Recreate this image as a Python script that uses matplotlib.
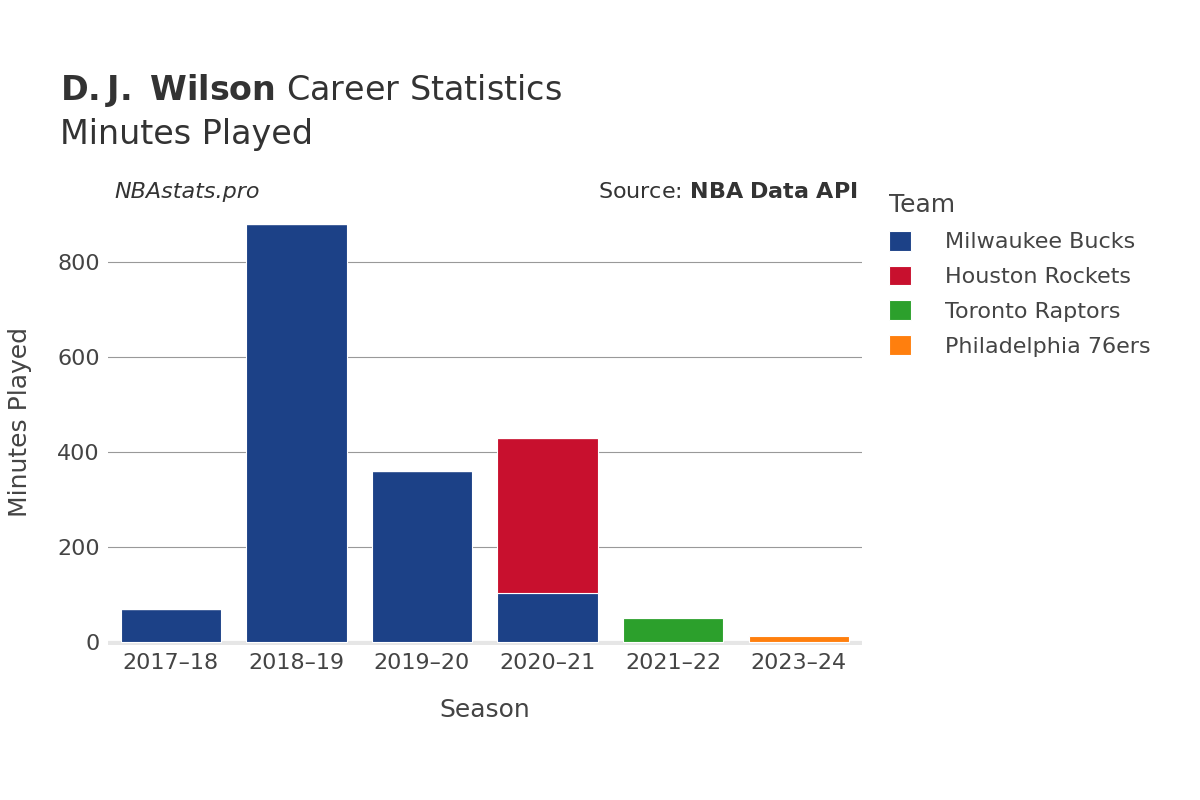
import matplotlib
matplotlib.use('Agg')
import matplotlib.pyplot as plt

seasons = ["2017–18", "2018–19", "2019–20", "2020–21", "2021–22", "2023–24"]
teams = ["Milwaukee Bucks", "Houston Rockets", "Toronto Raptors", "Philadelphia 76ers"]
colors = ["#1c4187", "#c8102e", "#2ca02c", "#ff7f0e"]
bucks = [70, 880, 361, 103, 0, 0]
rockets = [0, 0, 0, 327, 0, 0]
raptors = [0, 0, 0, 0, 51, 0]
sixers = [0, 0, 0, 0, 0, 13]
series = [bucks, rockets, raptors, sixers]

fig = plt.figure(figsize=(12, 8), dpi=100)
ax = fig.add_axes([0.09, 0.194, 0.628, 0.556])
x = range(len(seasons))
bottom = [0] * len(seasons)
for name, vals, c in zip(teams, series, colors):
    ax.bar(x, vals, width=0.8, bottom=bottom, color=c, label=name,
           edgecolor="white", linewidth=0.8, zorder=3)
    bottom = [b + v for b, v in zip(bottom, vals)]

ax.set_xlim(-0.5, 5.5)
ax.set_ylim(-5, 930)
ax.set_yticks([0, 200, 400, 600, 800])
ax.set_xticks(list(x))
ax.set_xticklabels(seasons)
ax.grid(axis='y', color='#999999', linewidth=0.8, zorder=0)
for s in ax.spines.values():
    s.set_visible(False)
ax.axhline(-2, color='#e6e6e6', linewidth=3, zorder=2)
ax.tick_params(length=0, labelsize=16, colors='#444444', pad=6)
ax.set_xlabel("Season", fontsize=18, color='#444444', labelpad=18)
ax.set_ylabel("Minutes Played", fontsize=18, color='#444444', labelpad=18)

fig.text(0.05, 0.875, r"$\bf{D.J.\ Wilson}$ Career Statistics", fontsize=24, color='#333333')
fig.text(0.05, 0.82, "Minutes Played", fontsize=24, color='#333333')
fig.text(0.095, 0.752, "NBAstats.pro", fontsize=16, style='italic', color='#333333')
fig.text(0.715, 0.752, r"Source: $\bf{NBA\ Data\ API}$", fontsize=16, color='#333333', ha='right')

leg = ax.legend(loc='upper left', bbox_to_anchor=(1.01, 1.06), frameon=False,
                fontsize=16, title="Team", title_fontsize=18, handlelength=1.0,
                handleheight=1.0, labelspacing=0.6, handletextpad=1.5)
leg._legend_box.align = "left"
for t in leg.get_texts():
    t.set_color('#444444')
leg.get_title().set_color('#444444')

fig.savefig("out.png")
